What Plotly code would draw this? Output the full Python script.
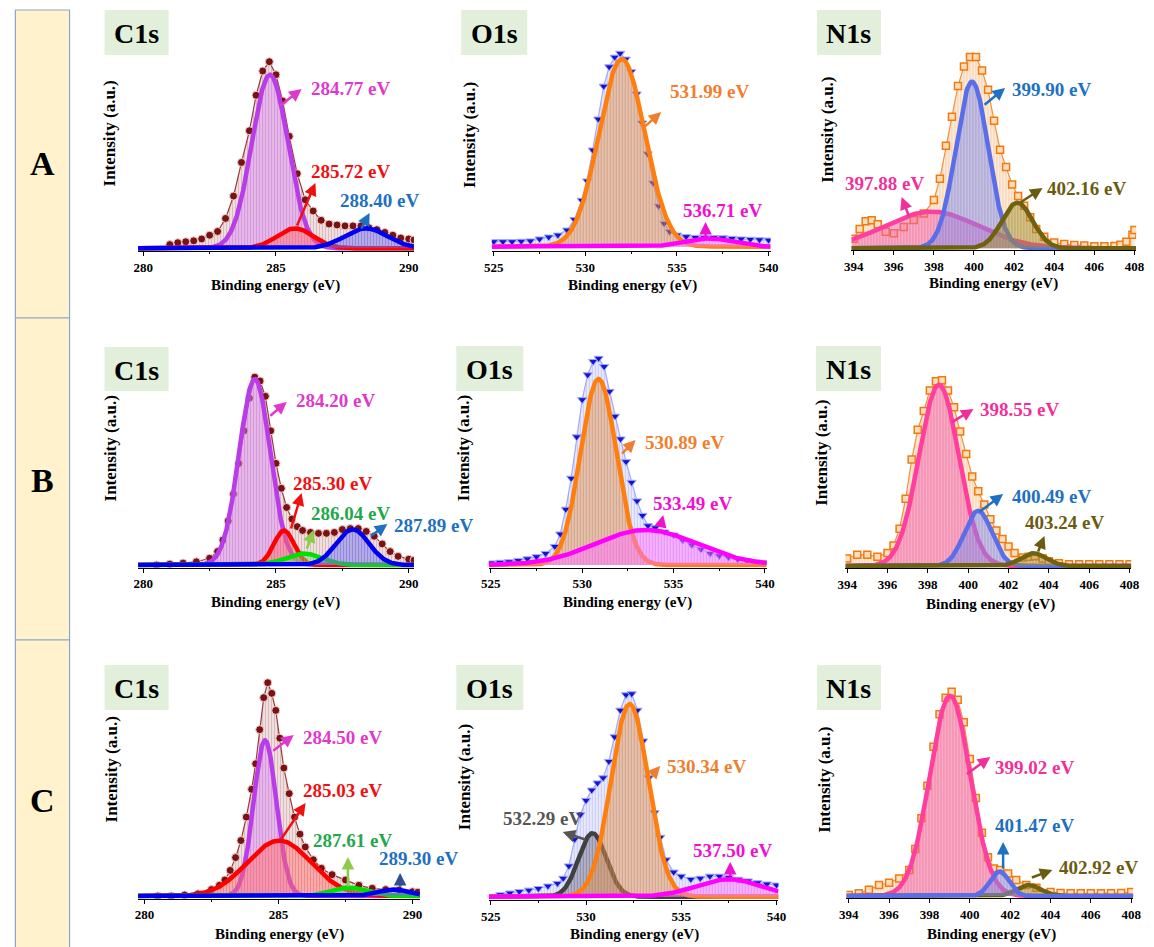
import numpy as np
import plotly.graph_objects as go

W, H = 1154, 947
FONT = "Liberation Serif"

# ---------------- data (intensities normalised) ----------------
# Row A
A_C1s_E = [281.0, 281.3, 281.6, 281.9, 282.2, 282.5, 282.8, 283.1, 283.4, 283.7, 284.0, 284.25, 284.5, 284.75,
           285.0, 285.25, 285.5, 285.8, 286.1, 286.4, 286.7, 287.0, 287.3, 287.6, 287.9, 288.2, 288.5, 288.8,
           289.1, 289.4, 289.7, 290.0, 290.2]
A_C1s_I = [0.02, 0.03, 0.035, 0.04, 0.05, 0.07, 0.09, 0.16, 0.28, 0.46, 0.63, 0.82, 0.95, 1.0,
           0.93, 0.79, 0.60, 0.40, 0.26, 0.20, 0.15, 0.13, 0.125, 0.12, 0.12, 0.12, 0.11, 0.10,
           0.085, 0.07, 0.055, 0.05, 0.045]
A_C1s_center = [284.77, 285.72, 288.40]
A_C1s_height = [0.93, 0.107, 0.107]
A_C1s_fwhm = [1.6, 1.6, 1.9]
A_C1s_label = ["284.77 eV", "285.72 eV", "288.40 eV"]

A_O1s_E = [525.0, 525.5, 526.0, 526.5, 527.0, 527.5, 528.0, 528.5, 529.0, 529.4, 529.8, 530.1, 530.4, 530.7,
           531.0, 531.3, 531.6, 531.9, 532.2, 532.5, 532.8, 533.1, 533.4, 533.7, 534.0, 534.3, 534.6, 535.0,
           535.5, 536.0, 536.5, 537.0, 537.5, 538.0, 538.5, 539.0, 539.5, 540.0]
A_O1s_I = [0.026, 0.026, 0.026, 0.028, 0.03, 0.04, 0.05, 0.06, 0.086, 0.14, 0.24, 0.34, 0.50, 0.66,
           0.83, 0.93, 0.98, 1.0, 0.97, 0.905, 0.79, 0.64, 0.48, 0.33, 0.21, 0.12, 0.078, 0.06,
           0.052, 0.048, 0.048, 0.048, 0.046, 0.043, 0.04, 0.038, 0.036, 0.034]
A_O1s_center = [531.99, 536.71]
A_O1s_height = [0.97, 0.043]
A_O1s_fwhm = [2.95, 3.0]
A_O1s_label = ["531.99 eV", "536.71 eV"]

A_N1s_E = [394.0, 394.3, 394.6, 394.9, 395.2, 395.6, 396.0, 396.5, 397.0, 397.5, 398.0, 398.3, 398.6, 398.9,
           399.2, 399.5, 399.8, 400.1, 400.4, 400.7, 401.0, 401.3, 401.6, 401.9, 402.2, 402.5, 402.8, 403.1,
           403.5, 404.0, 404.5, 405.0, 405.5, 406.0, 406.5, 407.0, 407.3, 407.6, 407.9, 408.0]
A_N1s_I = [0.05, 0.10, 0.14, 0.145, 0.125, 0.085, 0.078, 0.11, 0.146, 0.18, 0.25, 0.36, 0.53, 0.68,
           0.84, 0.94, 0.99, 0.99, 0.92, 0.82, 0.66, 0.51, 0.42, 0.33, 0.27, 0.22, 0.16, 0.10,
           0.06, 0.03, 0.022, 0.017, 0.014, 0.01, 0.01, 0.012, 0.018, 0.034, 0.07, 0.095]
A_N1s_center = [397.88, 399.90, 402.16]
A_N1s_height = [0.19, 0.862, 0.236]
A_N1s_fwhm = [5.5, 1.9, 1.8]
A_N1s_label = ["397.88 eV", "399.90 eV", "402.16 eV"]

# Row B
B_C1s_E = [280.5, 281.0, 281.5, 282.0, 282.5, 282.8, 283.0, 283.2, 283.4, 283.6, 283.8, 284.0, 284.2, 284.4,
           284.6, 284.8, 285.0, 285.2, 285.4, 285.6, 285.8, 286.0, 286.3, 286.6, 286.9, 287.2, 287.5, 287.8,
           288.1, 288.4, 288.7, 289.0, 289.3, 289.6, 290.0, 290.2]
B_C1s_I = [0.0, 0.005, 0.01, 0.017, 0.035, 0.07, 0.13, 0.23, 0.37, 0.53, 0.70, 0.87, 0.98, 0.96,
           0.88, 0.70, 0.53, 0.40, 0.30, 0.24, 0.20, 0.18, 0.17, 0.165, 0.165, 0.17, 0.185, 0.19,
           0.19, 0.175, 0.15, 0.11, 0.07, 0.045, 0.03, 0.025]
B_C1s_center = [284.20, 285.30, 286.04, 287.89]
B_C1s_height = [0.97, 0.18, 0.06, 0.186]
B_C1s_fwhm = [1.38, 0.9, 1.6, 1.45]
B_C1s_label = ["284.20 eV", "285.30 eV", "286.04 eV", "287.89 eV"]

B_O1s_E = [525.0, 525.5, 526.0, 526.5, 527.0, 527.5, 528.0, 528.5, 528.8, 529.1, 529.4, 529.7, 530.0, 530.3,
           530.6, 530.9, 531.2, 531.5, 531.8, 532.1, 532.4, 532.7, 533.0, 533.3, 533.6, 534.0, 534.5, 535.0,
           535.5, 536.0, 536.5, 537.0, 537.5, 538.0, 538.5, 539.0, 539.5, 540.0]
B_O1s_I = [0.01, 0.013, 0.016, 0.022, 0.03, 0.04, 0.056, 0.09, 0.15, 0.27, 0.42, 0.62, 0.80, 0.92,
           0.985, 1.0, 0.96, 0.84, 0.72, 0.61, 0.50, 0.40, 0.31, 0.24, 0.19, 0.18, 0.16, 0.145,
           0.12, 0.097, 0.076, 0.056, 0.045, 0.037, 0.028, 0.02, 0.015, 0.011]
B_O1s_center = [530.89, 533.49]
B_O1s_height = [0.90, 0.17]
B_O1s_fwhm = [2.3, 6.5]
B_O1s_label = ["530.89 eV", "533.49 eV"]

B_N1s_E = [394.0, 394.5, 395.0, 395.5, 396.0, 396.3, 396.6, 396.9, 397.2, 397.5, 397.8, 398.1, 398.4, 398.7,
           399.0, 399.3, 399.6, 399.9, 400.2, 400.5, 400.8, 401.1, 401.4, 401.7, 402.0, 402.3, 402.7, 403.0,
           403.3, 403.7, 404.0, 404.5, 405.0, 405.5, 406.0, 406.5, 407.0, 407.5, 408.0]
B_N1s_I = [0.04, 0.06, 0.06, 0.05, 0.07, 0.11, 0.20, 0.36, 0.57, 0.73, 0.83, 0.94, 0.99, 0.995,
           0.94, 0.85, 0.72, 0.60, 0.48, 0.40, 0.33, 0.25, 0.19, 0.145, 0.105, 0.07, 0.045, 0.05,
           0.052, 0.04, 0.025, 0.015, 0.01, 0.01, 0.01, 0.01, 0.01, 0.01, 0.01]
B_N1s_center = [398.55, 400.49, 403.24]
B_N1s_height = [0.97, 0.296, 0.068]
B_N1s_fwhm = [2.33, 1.6, 1.5]
B_N1s_label = ["398.55 eV", "400.49 eV", "403.24 eV"]

# Row C
C_C1s_E = [280.5, 281.0, 281.5, 282.0, 282.5, 282.8, 283.0, 283.2, 283.4, 283.6, 283.8, 284.0, 284.15, 284.3,
           284.45, 284.6, 284.75, 284.9, 285.05, 285.2, 285.4, 285.6, 285.8, 286.0, 286.3, 286.6, 287.0, 287.5,
           288.0, 288.5, 289.0, 289.5, 290.0, 290.2]
C_C1s_I = [0.0, 0.0, 0.005, 0.01, 0.03, 0.05, 0.075, 0.12, 0.18, 0.26, 0.37, 0.50, 0.62, 0.78,
           0.93, 1.0, 0.95, 0.87, 0.74, 0.60, 0.48, 0.37, 0.29, 0.23, 0.17, 0.13, 0.10, 0.075,
           0.05, 0.036, 0.03, 0.028, 0.02, 0.018]
C_C1s_center = [284.50, 285.03, 287.61, 289.30]
C_C1s_height = [0.73, 0.26, 0.04, 0.03]
C_C1s_fwhm = [1.0, 2.8, 1.5, 1.4]
C_C1s_label = ["284.50 eV", "285.03 eV", "287.61 eV", "289.30 eV"]

C_O1s_E = [525.5, 526.0, 526.5, 527.0, 527.5, 528.0, 528.5, 528.8, 529.1, 529.4, 529.7, 530.0, 530.3, 530.6,
           530.9, 531.2, 531.5, 531.8, 532.1, 532.4, 532.7, 533.0, 533.3, 533.6, 533.9, 534.2, 534.6, 535.0,
           535.5, 536.0, 536.5, 537.0, 537.5, 538.0, 538.5, 539.0, 539.5, 540.0]
C_O1s_I = [0.01, 0.018, 0.025, 0.032, 0.04, 0.052, 0.065, 0.09, 0.15, 0.28, 0.40, 0.47, 0.52, 0.555,
           0.58, 0.66, 0.78, 0.91, 0.985, 0.99, 0.91, 0.76, 0.58, 0.41, 0.29, 0.18, 0.12, 0.10,
           0.085, 0.09, 0.10, 0.10, 0.094, 0.085, 0.077, 0.068, 0.062, 0.057]
C_O1s_center = [530.34, 532.29, 537.50]
C_O1s_height = [0.31, 0.94, 0.085]
C_O1s_fwhm = [1.7, 2.3, 4.0]
C_O1s_label = ["532.29 eV", "530.34 eV", "537.50 eV"]

C_N1s_E = [394.0, 394.5, 395.0, 395.5, 396.0, 396.5, 397.0, 397.3, 397.6, 397.9, 398.2, 398.5, 398.8, 399.1,
           399.4, 399.7, 400.0, 400.3, 400.6, 400.9, 401.2, 401.5, 401.9, 402.3, 402.8, 403.3, 404.0, 404.5,
           405.0, 405.5, 406.0, 406.5, 407.0, 407.5, 408.0]
C_N1s_I = [0.005, 0.013, 0.03, 0.054, 0.065, 0.086, 0.127, 0.23, 0.38, 0.54, 0.73, 0.89, 0.97, 1.0,
           0.96, 0.85, 0.67, 0.48, 0.31, 0.19, 0.135, 0.127, 0.11, 0.078, 0.054, 0.04, 0.02, 0.015,
           0.013, 0.013, 0.013, 0.013, 0.013, 0.015, 0.02]
C_N1s_center = [399.02, 402.92, 401.47]
C_N1s_height = [0.98, 0.054, 0.12]
C_N1s_fwhm = [2.36, 1.4, 1.1]
C_N1s_label = ["399.02 eV", "402.92 eV", "401.47 eV"]

ROW_LABELS = ["A", "B", "C"]
X_TITLE = "Binding energy (eV)"
Y_TITLE = "Intensity (a.u.)"

# ---------------- styles ----------------
COMP = {  # line colour, hatch colour
    'c_mag': ('#B83CE8', '#D884F0'),
    'c_red': ('#FF0000', '#FF6A6A'),
    'c_blue': ('#0000F0', '#6A6AF0'),
    'c_green': ('#00E000', '#70E070'),
    'o_orange': ('#FF7F0E', '#E0904A'),
    'o_mag': ('#FF00FF', '#FF70FF'),
    'o_gray': ('#404040', '#6E6E80'),
    'n_pink': ('#FF3E9E', '#F25CAC'),
    'n_blue': ('#5A6EEA', '#808CEC'),
    'n_olive': ('#6E6210', '#A08E30'),
}
DATA_STY = {
    'C1s': dict(symbol='circle', color='#7A1212', line='#F2D2D2', lw=1, size=8, hatch='#C08888', lc='#9A3A3A'),
    'O1s': dict(symbol='triangle-down', color='#1414D0', line='#A0A8FF', lw=1, size=8, hatch='#9EA8F6', lc='#A0A8FF'),
    'N1s': dict(symbol='square', color='#FFDDB8', line='#F07A10', lw=1.5, size=7, hatch='#F6AE6E', lc='#F59040'),
}
TXT = {'mag': '#E038CC', 'red': '#F01010', 'blue': '#1E70C0', 'green': '#22A84A', 'orange': '#EF7F2F',
       'omag': '#F010D0', 'gray': '#555555', 'pink': '#F0309A', 'olive': '#6B5B10', 'navy': '#2F4F8F',
       'lgreen': '#8CCC48'}

# panel geometry (pixels) and annotation placement
panels = [
    dict(kind='C1s', E=A_C1s_E, I=A_C1s_I, C=A_C1s_center, Hh=A_C1s_height, Wd=A_C1s_fwhm, L=A_C1s_label,
         comp=['c_mag', 'c_red', 'c_blue'], e=(280, 290), p=(137.3, 406.7), ext=(132, 412), base=248.3, top=61.7,
         axis=251, box=(98, 163, 10, 55), ytit=(103, 133), xtit=(272, 285),
         ann=[('mag', 'mag', (305, 88), (275, 107), (298, 89)),
              ('red', 'red', (305, 172), (293, 227), (312, 183)),
              ('blue', 'blue', (335, 200), (358, 230), (367, 213))]),
    dict(kind='O1s', E=A_O1s_E, I=A_O1s_I, C=A_O1s_center, Hh=A_O1s_height, Wd=A_O1s_fwhm, L=A_O1s_label,
         comp=['o_orange', 'o_mag'], e=(525, 540), p=(493, 772), ext=(491, 774), base=246.7, top=53.3,
         axis=251, box=(460, 527, 10, 55), ytit=(468, 135), xtit=(634, 285),
         ann=[('orange', 'orange', (670, 92), (645, 128), (663, 112)),
              ('omag', 'omag', (683, 211), (708, 240), (708, 222))]),
    dict(kind='N1s', E=A_N1s_E, I=A_N1s_I, C=A_N1s_center, Hh=A_N1s_height, Wd=A_N1s_fwhm, L=A_N1s_label,
         comp=['n_pink', 'n_blue', 'n_olive'], e=(394, 408), p=(858.3, 1143.3), ext=(856, 1145), base=248.3,
         top=55, axis=250, box=(821, 886, 10, 55), ytit=(832, 130), xtit=(1000, 283),
         ann=[('pink', 'pink', (847, 183), (915, 218), (907, 197)),
              ('blue', 'blue', (1017, 89), (990, 106), (1012, 88)),
              ('olive', 'olive', (1053, 188), (1027, 203), (1050, 188))]),
    dict(kind='C1s', E=B_C1s_E, I=B_C1s_I, C=B_C1s_center, Hh=B_C1s_height, Wd=B_C1s_fwhm, L=B_C1s_label,
         comp=['c_mag', 'c_red', 'c_green', 'c_blue'], e=(280, 290), p=(137.3, 406.7), ext=(132, 412), base=565,
         top=373.3, axis=567.5, box=(98, 163, 347, 391), ytit=(105, 448), xtit=(272, 602),
         ann=[('mag', 'mag', (290, 400), (265, 417), (283, 402)),
              ('red', 'red', (287, 483), (287, 530), (298, 493)),
              ('green', 'lgreen', (305, 513), (303, 550), (310, 530)),
              ('blue', 'blue', (390, 525), (367, 537), (385, 524))]),
    dict(kind='O1s', E=B_O1s_E, I=B_O1s_I, C=B_O1s_center, Hh=B_O1s_height, Wd=B_O1s_fwhm, L=B_O1s_label,
         comp=['o_orange', 'o_mag'], e=(525, 540), p=(490, 768.3), ext=(488, 770), base=565, top=358.3,
         axis=567.5, box=(455, 523, 346, 391), ytit=(463, 448), xtit=(629, 602),
         ann=[('orange', 'orange', (645, 442), (622, 455), (637, 440)),
              ('omag', 'omag', (653, 503), (662, 528), (665, 515))]),
    dict(kind='N1s', E=B_N1s_E, I=B_N1s_I, C=B_N1s_center, Hh=B_N1s_height, Wd=B_N1s_fwhm, L=B_N1s_label,
         comp=['n_pink', 'n_blue', 'n_olive'], e=(394, 408), p=(851.7, 1138.3), ext=(850, 1140), base=566,
         top=379.3, axis=568, box=(820, 886, 346, 391), ytit=(825, 453), xtit=(997, 604),
         ann=[('pink', 'pink', (985, 409), (957, 423), (980, 409)),
              ('blue', 'blue', (1017, 496), (985, 513), (1010, 494)),
              ('olive', 'olive', (1030, 522), (1045, 553), (1052, 536))]),
    dict(kind='C1s', E=C_C1s_E, I=C_C1s_I, C=C_C1s_center, Hh=C_C1s_height, Wd=C_C1s_fwhm, L=C_C1s_label,
         comp=['c_mag', 'c_red', 'c_green', 'c_blue'], e=(280, 290), p=(138.5, 410.5), ext=(132, 418), base=896,
         top=682.7, axis=898.5, box=(98, 163, 665, 710), ytit=(105, 769), xtit=(276, 934),
         ann=[('mag', 'mag', (297, 737), (268, 752), (290, 735)),
              ('red', 'red', (297, 790), (277, 840), (302, 803)),
              ('green', 'lgreen', (308, 840), (345, 888), (345, 857)),
              ('blue', 'navy', (375, 858), (398, 888), (398, 873))]),
    dict(kind='O1s', E=C_O1s_E, I=C_O1s_I, C=C_O1s_center, Hh=C_O1s_height, Wd=C_O1s_fwhm, L=C_O1s_label,
         comp=['o_gray', 'o_orange', 'o_mag'], e=(525, 540), p=(490, 780), ext=(488, 782), base=896.7,
         top=691.7, axis=900, box=(455, 523, 665, 710), ytit=(463, 777), xtit=(636, 934),
         ann=[('gray', 'gray', (500, 818), (587, 840), (563, 832)),
              ('orange', 'orange', (667, 766), (652, 777), (662, 766)),
              ('omag', 'omag', (693, 850), (733, 878), (733, 862))]),
    dict(kind='N1s', E=C_N1s_E, I=C_N1s_I, C=C_N1s_center, Hh=C_N1s_height, Wd=C_N1s_fwhm, L=C_N1s_label,
         comp=['n_pink', 'n_olive', 'n_blue'], e=(394, 408), p=(853.3, 1140), ext=(851, 1142), base=896,
         top=691.7, axis=898, box=(821, 886, 665, 710), ytit=(828, 780), xtit=(998, 934),
         ann=[('pink', 'pink', (1000, 767), (972, 775), (997, 757)),
              ('olive', 'olive', (1065, 867), (1038, 878), (1060, 870)),
              ('blue', 'blue', (1000, 825), (1010, 870), (1010, 842))]),
]


def PX(x):
    return x / W


def PY(y):
    return 1 - y / H


def rgba(hexc, a):
    hexc = hexc.lstrip('#')
    r, g, b = int(hexc[0:2], 16), int(hexc[2:4], 16), int(hexc[4:6], 16)
    return f'rgba({r},{g},{b},{a})'


def gauss(x, c, h, w):
    return h * np.exp(-4 * np.log(2) * ((x - c) / w) ** 2)


fig = go.Figure()
annotations = []
shapes = []
layout_axes = {}

for i, P in enumerate(panels, start=1):
    xa = 'x' if i == 1 else f'x{i}'
    ya = 'y' if i == 1 else f'y{i}'
    (e1, e2), (p1, p2) = P['e'], P['p']
    s = (p2 - p1) / (e2 - e1)
    l, r = P['ext']
    xr = [e1 + (l - p1) / s, e1 + (r - p1) / s]
    u = P['base'] - P['top']
    dtop = P['top'] - 22
    yr = [(P['base'] - P['axis']) / u, (P['base'] - dtop) / u]

    ds = DATA_STY[P['kind']]
    # experimental data with drop lines
    fig.add_trace(go.Scatter(
        x=P['E'], y=P['I'], xaxis=xa, yaxis=ya, mode='lines+markers', fill='tozeroy',
        fillcolor='rgba(0,0,0,0)',
        fillpattern=dict(shape='|', fgcolor=ds['hatch'], bgcolor=rgba(ds['hatch'], 0.15), size=3, solidity=0.5),
        line=dict(color=ds['lc'], width=1.2),
        marker=dict(symbol=ds['symbol'], size=ds['size'], color=ds['color'],
                    line=dict(color=ds['line'], width=ds['lw'])),
        showlegend=False, hoverinfo='skip'))

    xx = np.linspace(xr[0], xr[1], 500)
    for c, h, w, key in zip(P['C'], P['Hh'], P['Wd'], P['comp']):
        lc, hc = COMP[key]
        fig.add_trace(go.Scatter(
            x=xx, y=gauss(xx, c, h, w), xaxis=xa, yaxis=ya, mode='lines', fill='tozeroy',
            fillcolor='rgba(0,0,0,0)',
            fillpattern=dict(shape='|', fgcolor=hc, bgcolor=rgba(hc, 0.3), size=3, solidity=0.6),
            line=dict(color=lc, width=4.5), showlegend=False, hoverinfo='skip'))

    minor = dict(dtick=2.5, ticks='outside', ticklen=2, tickcolor='black') if P['kind'] != 'N1s' else None
    xdict = dict(domain=[PX(l), PX(r)], range=xr, anchor=ya, showgrid=False, zeroline=False,
                 showline=True, linecolor='black', linewidth=1.2, ticks='outside', ticklen=4,
                 tickcolor='black', dtick=5 if P['kind'] != 'N1s' else 2, tick0=0,
                 tickfont=dict(family=FONT, size=13, color='black', weight='bold'))
    if minor:
        xdict['minor'] = minor
    layout_axes['xaxis' if i == 1 else f'xaxis{i}'] = xdict
    layout_axes['yaxis' if i == 1 else f'yaxis{i}'] = dict(
        domain=[PY(P['axis']), PY(dtop)], range=yr, anchor=xa, showgrid=False, zeroline=False,
        showline=False, showticklabels=False, ticks='')

    # label box
    bx0, bx1, by0, by1 = P['box']
    shapes.append(dict(type='rect', xref='paper', yref='paper', x0=PX(bx0), x1=PX(bx1), y0=PY(by1), y1=PY(by0),
                       fillcolor='#E2EFDA', line=dict(width=0), layer='above'))
    annotations.append(dict(text=f"<b>{P['kind']}</b>", x=PX((bx0 + bx1) / 2), y=PY((by0 + by1) / 2 + 1),
                            xref='paper', yref='paper', showarrow=False, xanchor='center', yanchor='middle',
                            font=dict(family=FONT, size=28, color='black')))
    # axis titles
    annotations.append(dict(text=f"<b>{Y_TITLE}</b>", x=PX(P['ytit'][0]), y=PY(P['ytit'][1]), xref='paper',
                            yref='paper', showarrow=False, textangle=-90, xanchor='center', yanchor='middle',
                            font=dict(family=FONT, size=17, color='black')))
    annotations.append(dict(text=f"<b>{X_TITLE}</b>", x=PX(P['xtit'][0]), y=PY(P['xtit'][1]), xref='paper',
                            yref='paper', showarrow=False, xanchor='center', yanchor='middle',
                            font=dict(family=FONT, size=15, color='black')))
    # peak labels and arrows
    for lab, (tc, ac, tpos, tail, head) in zip(P['L'], P['ann']):
        annotations.append(dict(text="", x=PX(head[0]), y=PY(head[1]), xref='paper', yref='paper',
                                showarrow=True, ax=tail[0] - head[0], ay=tail[1] - head[1], arrowhead=2,
                                arrowsize=1, arrowwidth=2.5, arrowcolor=TXT[ac], standoff=0, startstandoff=0))
        annotations.append(dict(text=f"<b>{lab}</b>", x=PX(tpos[0]), y=PY(tpos[1]), xref='paper', yref='paper',
                                showarrow=False, xanchor='left', yanchor='middle',
                                font=dict(family=FONT, size=19, color=TXT[tc])))

# row label boxes
row_bounds = [(10, 318), (318, 640), (640, 952)]
row_text_y = [163, 481, 800]
for lab, (y0, y1), ty in zip(ROW_LABELS, row_bounds, row_text_y):
    shapes.append(dict(type='rect', xref='paper', yref='paper', x0=PX(7.5), x1=PX(62.5), y0=PY(y1), y1=PY(y0),
                       fillcolor='#FFF2CC', line=dict(color='#8FA7C7', width=1.2), layer='below'))
    annotations.append(dict(text=f"<b>{lab}</b>", x=PX(35), y=PY(ty), xref='paper', yref='paper',
                            showarrow=False, xanchor='center', yanchor='middle',
                            font=dict(family=FONT, size=34, color='black')))

fig.update_layout(width=W, height=H, margin=dict(l=0, r=0, t=0, b=0), paper_bgcolor='white',
                  plot_bgcolor='rgba(0,0,0,0)', showlegend=False, annotations=annotations, shapes=shapes,
                  **layout_axes)

fig.write_html("out.html", config={'displayModeBar': False},
               post_script="document.body.style.margin='0';document.body.style.overflow='hidden';")
